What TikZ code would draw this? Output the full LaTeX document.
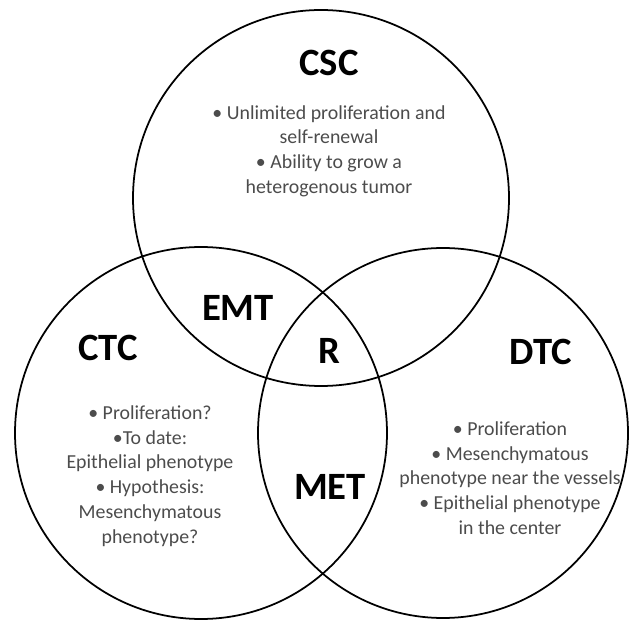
\documentclass[tikz,border=0pt]{standalone}
\usepackage{fontspec}
\setmainfont{Carlito}
\usetikzlibrary{calc}
\usetikzlibrary{positioning}

\tikzset{
  set/.style = {draw=black, line width=1pt},
  title/.style = {font=\fontsize{22}{26}\selectfont\bfseries},
  facts/.style = {align=center, text=black!70, font=\fontsize{11.3}{14.1}\selectfont},
}

\begin{document}
\begin{tikzpicture}[x=0.02cm, y=-0.02cm]
      \useasboundingbox (0,0) rectangle (629,621);
      \coordinate (csc) at (321,198);
      \coordinate (ctc) at (201,433);
      \coordinate (dtc) at (443,433);

      \draw[set] (csc) circle[radius=188];
      \draw[set] (ctc) circle[radius=186];
      \draw[set] (dtc) circle[radius=185];

      \node[title] (csctitle) at (329,63) {CSC};
      \node[title] (ctctitle) at (108,348) {CTC};
      \node[title] (dtctitle) at (541,352) {DTC};
      \node[title] (emt) at (238,308) {EMT};
      \node[title] (met) at (330,487) {MET};
      \node[title] (r) at (329,351) {R};

      \node[facts] (cscfacts) at (329,151) {\textbullet\ Unlimited proliferation and\\ self-renewal\\ \textbullet\ Ability to grow a\\ heterogenous tumor};
      \node[facts] (ctcfacts) at (150,476) {\textbullet\ Proliferation?\\ \textbullet To date:\\ Epithelial phenotype\\ \textbullet\ Hypothesis:\\ Mesenchymatous\\ phenotype?};
      \node[facts] (dtcfacts) at (510,478) {\textbullet\ Proliferation\\ \textbullet\ Mesenchymatous\\ phenotype near the vessels\\ \textbullet\ Epithelial phenotype\\ in the center};
\end{tikzpicture}
\end{document}
